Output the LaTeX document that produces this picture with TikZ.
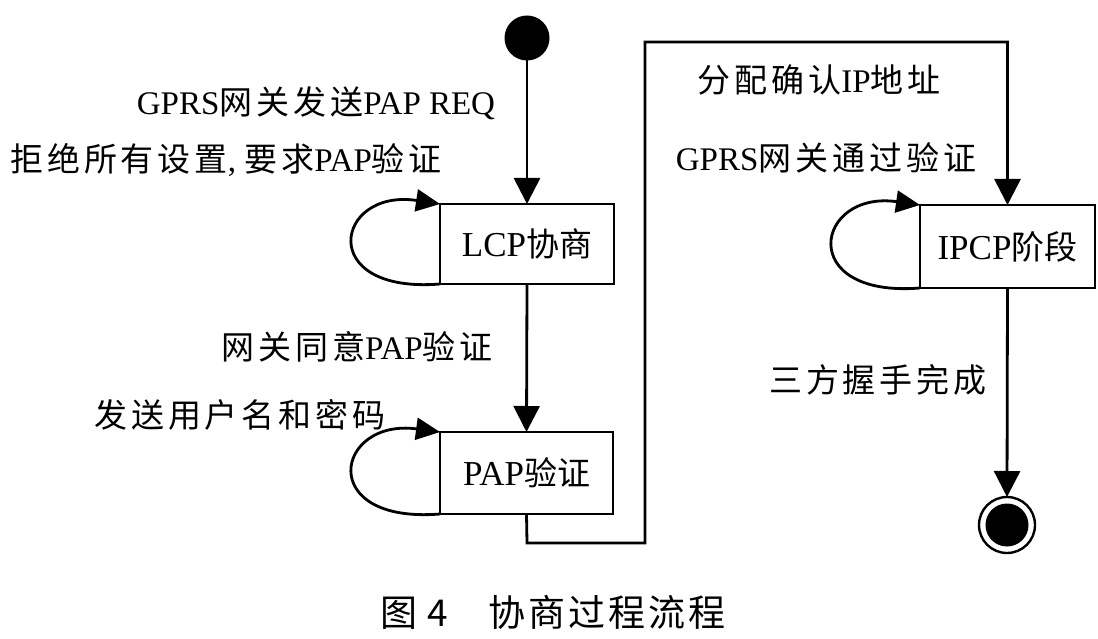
\documentclass[tikz,border=0pt]{standalone}
\usepackage{fontspec}
\setmainfont{Liberation Serif}
\newfontfamily\cjk{Noto Sans CJK SC}[LetterSpace=12]
\newfontfamily\cjkbox{Noto Sans CJK SC}
\newfontfamily\cjkcap{Noto Sans CJK SC}[LetterSpace=8]
\usetikzlibrary{arrows.meta}
\newcommand\zh[1]{{\cjk\fontsize{33}{36}\selectfont #1}}
\newcommand\zhb[1]{{\cjkbox\fontsize{33}{36}\selectfont #1}}
\tikzset{
  every node/.style={inner sep=0pt, outer sep=0pt, font=\fontsize{33}{36}\selectfont},
  state/.style={draw, line width=2.8pt, anchor=north west},
  statelabel/.style={font=\fontsize{35}{38}\selectfont},
  conn/.style={line width=2.8pt, -{Triangle[width=26pt,length=26pt]}},
  selfloop/.style={line width=2.8pt, -{Triangle[width=22pt,length=24pt]}},
}
\begin{document}
\begin{tikzpicture}[x=1pt,y=-1pt]
\useasboundingbox (0,0) rectangle (1098,639);
% states
\node[state, minimum width=174pt, minimum height=80pt] (lcp) at (440,204) {};
\node[statelabel] at (lcp.center) {LCP\zhb{协商}};
\node[state, minimum width=173pt, minimum height=82pt] (pap) at (440,432) {};
\node[statelabel] at (pap.center) {PAP\zhb{验证}};
\node[state, minimum width=175pt, minimum height=83pt] (ipcp) at (920,205) {};
\node[statelabel] at (ipcp.center) {IPCP\zhb{阶段}};
% initial and final states
\node[circle, fill=black, minimum size=45pt] (start) at (527,38) {};
\node[circle, draw, line width=2.4pt, minimum size=56pt] (endring) at (1007,525) {};
\node[circle, fill=black, minimum size=43pt] (enddot) at (endring.center) {};
% transitions
\draw[conn] (start.south) -- (start.south |- lcp.north);
\draw[conn] (lcp.south) -- (pap.north);
\coordinate (c1) at (527,543);
\coordinate (c2) at (645,543);
\coordinate (c3) at (645,42);
\coordinate (c4) at (ipcp.north |- c3);
\draw[conn] (pap.south) -- (c1) -- (c2) -- (c3) -- (c4) -- (ipcp.north);
\draw[conn] (ipcp.south) -- (endring.north);
% self transitions
\draw[selfloop] (lcp.south west) .. controls (315,294) and (335,188) .. (lcp.north west);
\draw[selfloop] (pap.south west) .. controls (315,524) and (335,418) .. (pap.north west);
\draw[selfloop] (ipcp.south west) .. controls (795,298) and (815,190) .. (ipcp.north west);
% labels
\node (l1) at (316,103) {GPRS\zh{网关发送}PAP REQ};
\node (l2) at (226,160) {\zh{拒绝所有设置}, \zh{要求}PAP\zh{验证}};
\node (l3) at (357,347) {\zh{网关同意}PAP\zh{验证}};
\node (l4) at (240,415) {\zh{发送用户名和密码}};
\node (l5) at (819,80) {\zh{分配确认}IP\zh{地址}};
\node (l6) at (826,158) {GPRS\zh{网关通过验证}};
\node (l7) at (878,380) {\zh{三方握手完成}};
% caption
\node (cap) at (553,612) {\cjkcap\fontsize{37}{40}\selectfont 图\hspace{0.25em}4\hspace{1.1em}协商过程流程};
\end{tikzpicture}
\end{document}
